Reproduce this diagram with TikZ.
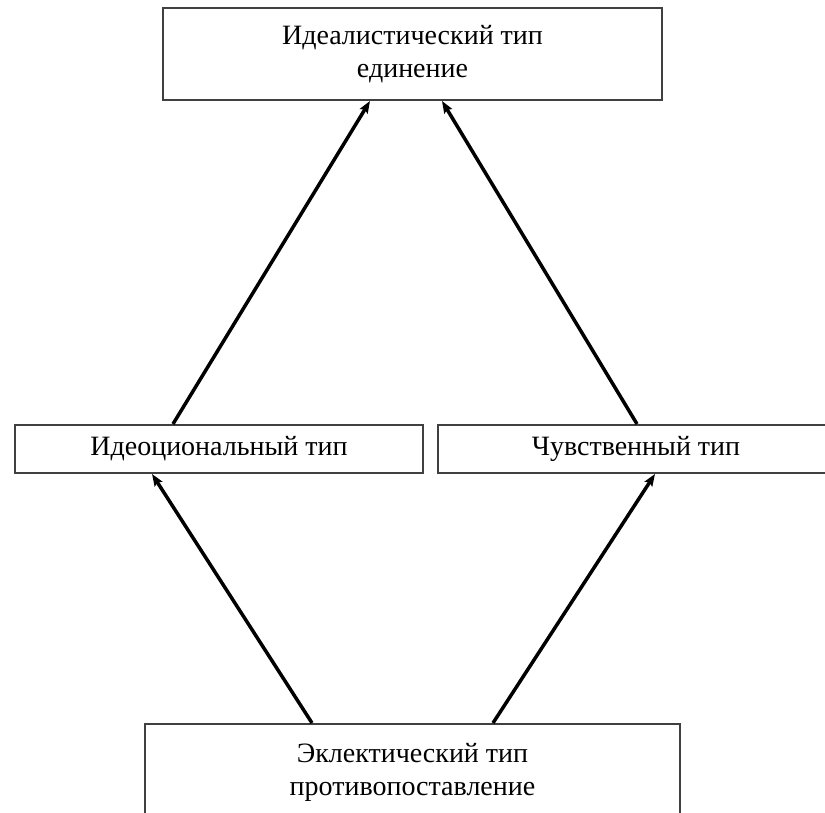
\documentclass[tikz,border=0pt]{standalone}
\usepackage{fontspec}
\setmainfont{Liberation Serif}
\usetikzlibrary{arrows.meta}

\begin{document}
\begin{tikzpicture}[x=1pt,y=-1pt,
                box/.style={draw=black!75,line width=2pt,inner sep=0pt,align=center,
                    font=\fontsize{28}{33}\selectfont},
                link/.style={line width=3.5pt,-{Stealth[length=12pt,width=9pt,inset=2pt]}}]
                \useasboundingbox (0,0) rectangle (825,813);
                \clip (0,0) rectangle (825,813);
                \node[box,minimum width=499pt,minimum height=92pt] (ideal) at (412.5,54) {Идеалистический тип\\единение\\[-27pt]};
                \node[box,minimum width=408pt,minimum height=48pt] (ideo) at (219,449) {Идеоциональный тип};
                \node[box,minimum width=396pt,minimum height=48pt] (sens) at (636,449) {Чувственный тип};
                \node[box,minimum width=535pt,minimum height=96pt] (eclect) at (412.5,772) {Эклектический тип\\противопоставление};
                \draw[link] ([xshift=-46pt]ideo.north) -- ([xshift=-42.5pt]ideal.south);
                \draw[link] ([xshift=1pt]sens.north) -- ([xshift=29.5pt]ideal.south);
                \draw[link] ([xshift=-100.5pt]eclect.north) -- ([xshift=-67pt]ideo.south);
                \draw[link] ([xshift=80.5pt]eclect.north) -- ([xshift=19pt]sens.south);
            \end{tikzpicture}
\end{document}
